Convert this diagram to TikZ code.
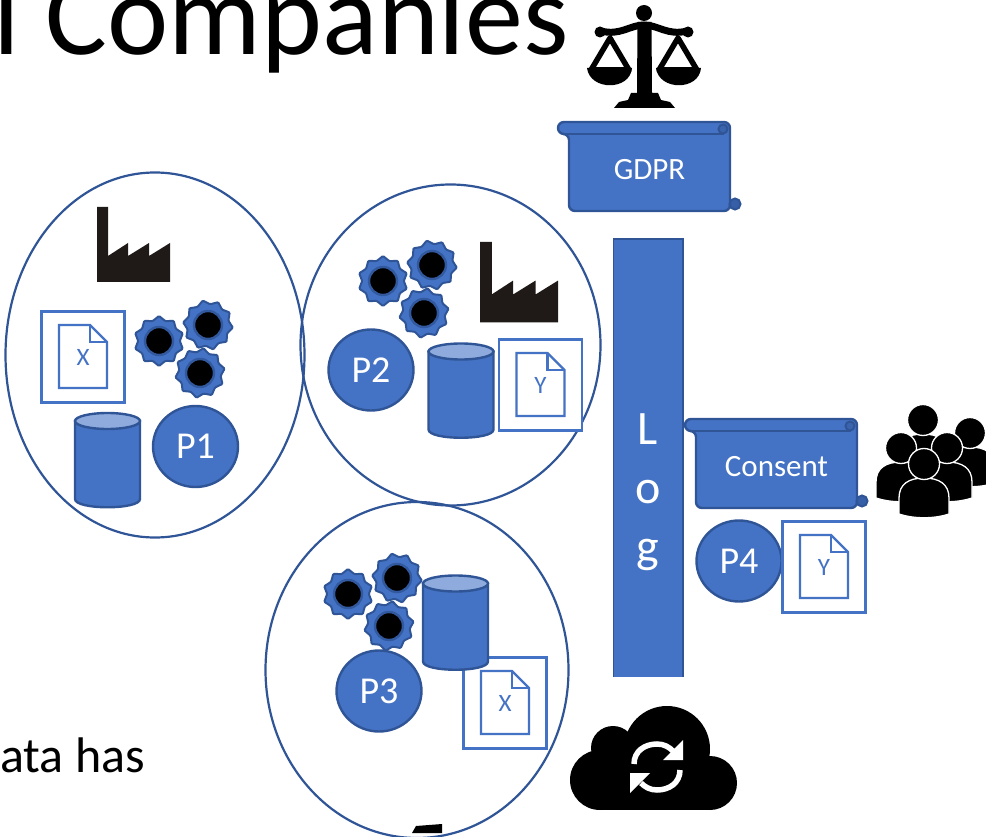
\documentclass[tikz,border=0pt]{standalone}
\usepackage{fontspec}
\setmainfont{Carlito}
\usetikzlibrary{shapes.geometric,positioning}
\definecolor{shapeblue}{HTML}{4472C4}
\definecolor{edgeblue}{HTML}{2F5597}
\definecolor{lidblue}{HTML}{8FAADC}
\definecolor{factoryblack}{HTML}{1F1A17}
\begin{document}
\begin{tikzpicture}[x=1pt,y=-1pt,
    company/.style={ellipse,draw=edgeblue,line width=2.2pt,inner sep=0pt},
    party/.style={ellipse,fill=shapeblue,draw=edgeblue,line width=2.4pt,inner sep=0pt,minimum width=85pt,minimum height=81pt,text=white,font=\fontsize{38}{38}\selectfont},
    wheel/.style={star,star points=10,star point ratio=1.2,fill=shapeblue,draw=edgeblue,line width=2pt,inner sep=0pt,minimum size=50pt,rounded corners=1pt},
    hole/.style={circle,fill=black,draw=edgeblue!85!shapeblue,line width=2.4pt,inner sep=0pt,minimum size=28pt},
    docframe/.style={rectangle,draw=shapeblue,fill=white,line width=2.2pt,inner sep=0pt,minimum width=83pt,minimum height=91pt},
    doclabel/.style={text=shapeblue,inner sep=0pt,font=\fontsize{25}{25}\selectfont},
    scrolltext/.style={text=white,inner sep=0pt,font=\fontsize{31}{31}\selectfont},
    pics/gearset/.style={code={
        \node [wheel] (-a) at (0,0) {};
        \node [hole] (-ah) at (0,0) {};
        \node [wheel,rotate=12] (-b) at (49,-16) {};
        \node [hole] (-bh) at (49,-16) {};
        \node [wheel,rotate=-8] (-c) at (41,32) {};
        \node [hole] (-ch) at (41,32) {};
    }},
    pics/drum/.style={code={
        \draw [fill=shapeblue,draw=edgeblue,line width=2.4pt] (-32.5,-39) -- (-32.5,39) .. controls (-32.5,50) and (32.5,50) .. (32.5,39) -- (32.5,-39) -- cycle;
        \draw [fill=lidblue,draw=edgeblue,line width=2.4pt] (0,-39) circle [x radius=32.5,y radius=8];
    }},
    pics/paper/.style={code={
        \node [docframe] (-frame) at (0,0) {};
        \draw [draw=shapeblue,line width=2.2pt] (-24,-32) -- (7,-32) -- (24,-15) -- (24,31) -- (-24,31) -- cycle;
        \draw [draw=shapeblue,line width=2.2pt] (7,-32) -- (7,-15) -- (24,-15);
        \node [doclabel] (-label) at (0,0) {#1};
    }},
    pics/scroll/.style={code={
        \draw [fill=shapeblue,draw=edgeblue,line width=2.4pt,rounded corners=6pt] (0,2) -- (0,79) -- (161,79) -- (161,-10) -- (-11,-10) -- (-11,2) -- cycle;
        \draw [draw=edgeblue,line width=2.4pt] (-5,2) -- (155,2);
        \draw [fill=edgeblue!65!shapeblue,draw=edgeblue,line width=2pt] (166,72) circle [radius=5.5];
        \draw [fill=edgeblue!50!shapeblue,draw=edgeblue,line width=2pt] (154,-3) circle [radius=4.5];
        \node [scrolltext] (-label) at (80.5,38) {#1};
    }},
    pics/smokestack/.style={code={
        \fill [factoryblack] (0,0) -- (11,0) -- (11,49) -- (31,36) -- (31,49) -- (52,36) -- (52,49) -- (73,36) -- (73,75) -- (0,75) -- cycle;
    }},
    pics/person/.style={code={
        \draw [fill=black,draw=white,line width=1.3pt] (-25,50) -- (-25,34) .. controls (-25,20) and (-15,14) .. (0,14) .. controls (15,14) and (25,20) .. (25,34) -- (25,50) .. controls (10,55) and (-10,55) .. (-25,50) -- cycle;
        \draw [fill=black,draw=white,line width=1.3pt] (0,0) circle [radius=15.5];
    }}]
    \useasboundingbox (0,0) rectangle (986,837);
    \clip (0,0) rectangle (986,837);
    % slide text behind the picture
    \node [anchor=base west,inner sep=0pt,font=\fontsize{116}{116}\selectfont] (title) at (-7,55) {l Companies};
    \node [anchor=base west,inner sep=0pt,font=\fontsize{50}{50}\selectfont] (slidetext) at (0,772) {ata has};
    % the three companies
    \node [company,minimum width=299pt,minimum height=365pt] (companya) at (155,355) {};
    \node [company,minimum width=300pt,minimum height=321pt] (companyb) at (450.5,345) {};
    \node [company,minimum width=303pt,minimum height=336pt] (companyc) at (417,670) {};
    % first company
    \pic at (97,207) {smokestack};
    \pic (gearsa) at (159,341) {gearset};
    \pic (papera) at (83,357) {paper=X};
    \pic at (107.5,460) {drum};
    \node [party] (pa) at (195.5,446.5) {P1};
    % second company
    \pic (gearsb) at (383,281) {gearset};
    \pic [scale=1.07] at (480,242) {smokestack};
    \pic at (461,390.5) {drum};
    \pic (paperb) at (540.5,385) {paper=Y};
    \node [party] (pb) at (371,370) {P2};
    % third company
    \pic (gearsc) at (348,594) {gearset};
    \pic (paperc) at (505,703) {paper=X};
    \pic at (455.5,622.5) {drum};
    \node [party] (pc) at (379,691) {P3};
    \fill (412,833) -- (416,826) -- (442,824) -- (442,833) -- cycle; % cut off at the edge
    % the scales
    \fill [black] (644,13) circle [radius=8];
    \draw [line width=7pt] (601,31) .. controls (620,36) and (630,25) .. (644,25) .. controls (658,25) and (668,36) .. (687,31);
    \fill [black] (600,32) circle [radius=5.5] (688,32) circle [radius=5.5];
    \fill [black] (637.5,22) -- (651.5,22) -- (652,93) -- (658,93) -- (661,100) -- (670,102) -- (675,108) -- (614,108) -- (619,102) -- (628,100) -- (631,93) -- (637,93) -- cycle;
    \draw [line width=5.5pt,line join=round] (610,38) -- (591,70) -- (629,70) -- cycle;
    \draw [line width=5.5pt,line join=round] (678,38) -- (659,70) -- (697,70) -- cycle;
    \fill [black] (587,68) -- (632,68) .. controls (630,91) and (590,91) .. (587,68) -- cycle;
    \fill [black] (656,68) -- (701,68) .. controls (699,91) and (659,91) .. (656,68) -- cycle;
    % law and log
    \pic (gdpr) at (569,132) {scroll=GDPR};
    \node [rectangle,fill=shapeblue,inner sep=0pt,minimum width=69pt,minimum height=438pt] (logbar) at (648,458) {};
    \draw [draw=edgeblue,line width=1.6pt] (logbar.south west) -- (logbar.north west) -- (logbar.north east) -- (logbar.south east);
    \node [text=white,align=center,inner sep=0pt,font=\fontsize{48}{59}\selectfont] (logword) at (648,492) {L\\o\\g};
    % fourth party and the people
    \pic (consent) at (696,429) {scroll=Consent};
    \node [party] (pd) at (739,561) {P4};
    \pic (paperd) at (824,567) {paper=Y};
    \pic at (970,433) {person};
    \pic at (923,420) {person};
    \pic at (901,448) {person};
    \pic at (947,448) {person};
    \pic at (924,464) {person};
    % cloud with sync arrows
    \fill [black] (600,780) circle [radius=30] (710,783) circle [radius=27] (667,749) circle [radius=43] (613,748) circle [radius=22];
    \fill [black] (600,770) rectangle (710,810);
    \fill [black] (612,745) rectangle (700,780);
    \draw [white,line width=5.5pt] (634,764) .. controls (634,751) and (645,744) .. (657,744) .. controls (664,744) and (669,747) .. (673,751);
    \fill [white] (683,740) -- (683,760) -- (663,760) -- cycle;
    \draw [white,line width=5.5pt] (680,770) .. controls (680,783) and (669,790) .. (657,790) .. controls (650,790) and (645,787) .. (641,783);
    \fill [white] (630,773) -- (650,773) -- (630,793) -- cycle;
\end{tikzpicture}
\end{document}
